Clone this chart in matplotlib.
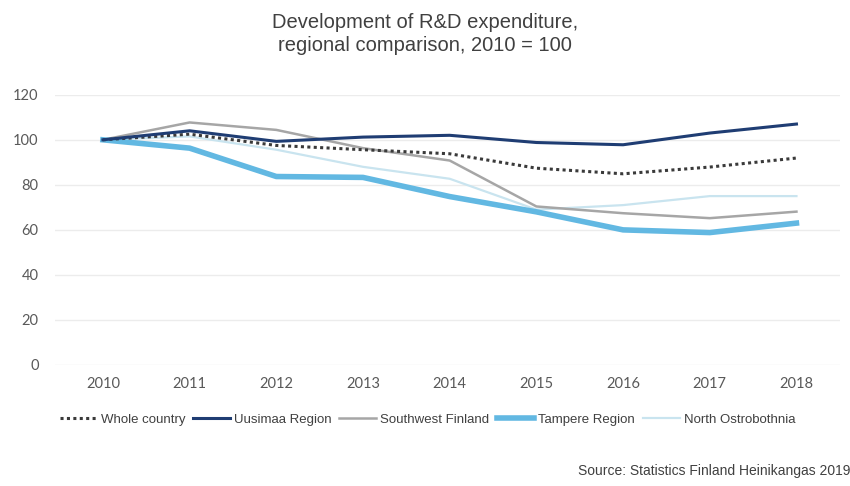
import matplotlib
matplotlib.use("Agg")
import matplotlib.pyplot as plt

years = ["2010", "2011", "2012", "2013", "2014", "2015", "2016", "2017", "2018"]
whole_country = [100, 102.5, 97.5, 95.6, 93.8, 87.4, 84.9, 87.9, 91.9]
uusimaa = [100, 104, 99.3, 101.2, 102, 98.8, 97.8, 103, 107]
southwest = [100, 107.7, 104.4, 96.3, 90.8, 70.4, 67.4, 65.2, 68.1]
tampere = [100, 96.3, 83.7, 83.3, 74.8, 68, 60, 58.8, 63]
north_ostro = [100, 101.5, 95.6, 88, 82.7, 69, 71, 75, 75]
y_ticks = [0, 20, 40, 60, 80, 100, 120]

TICK_FONT = ["Lato", "DejaVu Sans"]
SANS = ["Liberation Sans", "DejaVu Sans"]

fig = plt.figure(figsize=(8.5, 4.86), dpi=100)
ax = fig.add_axes([0.065, 0.249, 0.923, 0.556])
x = list(range(len(years)))

ax.plot(x, north_ostro, color="#c9e4ef", lw=1.6, label="North Ostrobothnia", zorder=3)
ax.plot(x, southwest, color="#a6a6a6", lw=1.8, label="Southwest Finland", zorder=4)
ax.plot(x, tampere, color="#62b8e2", lw=4.0, label="Tampere Region", zorder=5)
ax.plot(x, whole_country, color="#3a3a3a", lw=2.2, ls=(0, (1, 1.1)), label="Whole country", zorder=6)
ax.plot(x, uusimaa, color="#1f3d73", lw=2.2, label="Uusimaa Region", zorder=7)

ax.set_xlim(-0.55, 8.5)
ax.set_ylim(0, 120)
ax.set_yticks(y_ticks)
ax.set_xticks(x)
ax.set_xticklabels(years)
ax.grid(axis="y", color="#ececec", lw=1.0)
ax.set_axisbelow(True)
for s in ax.spines.values():
    s.set_visible(False)
ax.tick_params(length=0, colors="#595959", labelsize=10.5)
ax.tick_params(axis="y", pad=12)
ax.tick_params(axis="x", pad=9)
for lab in ax.get_xticklabels() + ax.get_yticklabels():
    lab.set_family(TICK_FONT)

fig.text(0.5, 0.93, "Development of R&D expenditure,\nregional comparison, 2010 = 100",
         ha="center", va="center", fontsize=14.5, color="#404040",
         family=SANS, linespacing=1.25)

handles, labels = ax.get_legend_handles_labels()
order = ["Whole country", "Uusimaa Region", "Southwest Finland", "Tampere Region", "North Ostrobothnia"]
hmap = dict(zip(labels, handles))
leg = fig.legend([hmap[k] for k in order], order, loc="center", bbox_to_anchor=(0.503, 0.136),
                 ncol=5, frameon=False, handlelength=2.8, handletextpad=0.3, columnspacing=0.6,
                 prop={"family": SANS, "size": 9.5})
for t in leg.get_texts():
    t.set_color("#404040")

fig.text(578 / 850, 1 - 471 / 486, "Source: Statistics Finland Heinikangas 2019",
         ha="left", va="center", fontsize=10, color="#404040", family=SANS)

fig.savefig("out.png", dpi=100)
